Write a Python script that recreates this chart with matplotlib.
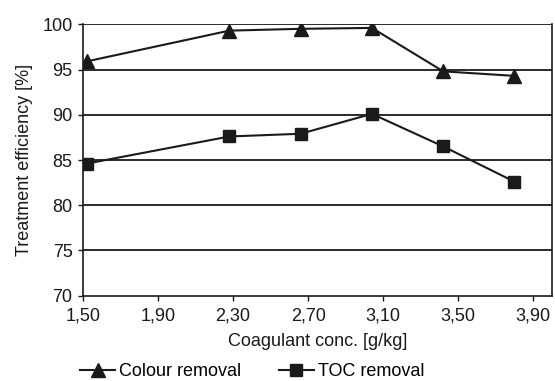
import matplotlib.pyplot as plt

plt.rcParams['font.family'] = ['Liberation Sans', 'DejaVu Sans']

# Coagulant dose vs removal efficiency
conc = [1.52, 2.28, 2.66, 3.04, 3.42, 3.80]
colour_removal = [95.9, 99.3, 99.5, 99.6, 94.8, 94.3]
toc_removal = [84.6, 87.6, 87.9, 90.1, 86.5, 82.6]
xticks = [1.50, 1.90, 2.30, 2.70, 3.10, 3.50, 3.90]
yticks = [70, 75, 80, 85, 90, 95, 100]

fs = 13
ink = '#1a1a1a'

fig = plt.figure(figsize=(5.55, 3.81), dpi=100)
ax = fig.add_axes([83 / 555, 1 - 295.7 / 381, (552 - 83) / 555, (295.7 - 24.3) / 381])

for y in yticks[1:]:
    ax.axhline(y, color=ink, lw=1.3, zorder=1)

ax.plot(conc, colour_removal, color=ink, lw=1.5, marker='^', ms=10,
        label='Colour removal', zorder=3)
ax.plot(conc, toc_removal, color=ink, lw=1.5, marker='s', ms=8,
        label='TOC removal', zorder=3)

ax.set_xlim(1.5, 4.0)
ax.set_ylim(70, 100)
ax.set_xticks(xticks)
ax.set_xticklabels([f'{v:.2f}'.replace('.', ',') for v in xticks])
ax.set_yticks(yticks)
ax.tick_params(axis='both', labelsize=fs, color=ink, labelcolor=ink,
               length=3.5, width=1)
ax.tick_params(axis='x', pad=5)
ax.tick_params(axis='y', pad=4)

for side in ['left', 'right', 'bottom']:
    ax.spines[side].set_color(ink)
    ax.spines[side].set_linewidth(1.2)
ax.spines['top'].set_visible(False)

ax.set_xlabel('Coagulant conc. [g/kg]', fontsize=fs, color=ink, labelpad=6)
ax.set_ylabel('Treatment efficiency [%]', fontsize=fs, color=ink, labelpad=7)

fig.legend(loc='center left', bbox_to_anchor=(80 / 555, 1 - 372 / 381), ncol=2,
           frameon=False, fontsize=fs, handlelength=1.95, handletextpad=0.2,
           columnspacing=2.1, borderaxespad=0, borderpad=0)

fig.savefig('out.png', dpi=100)
